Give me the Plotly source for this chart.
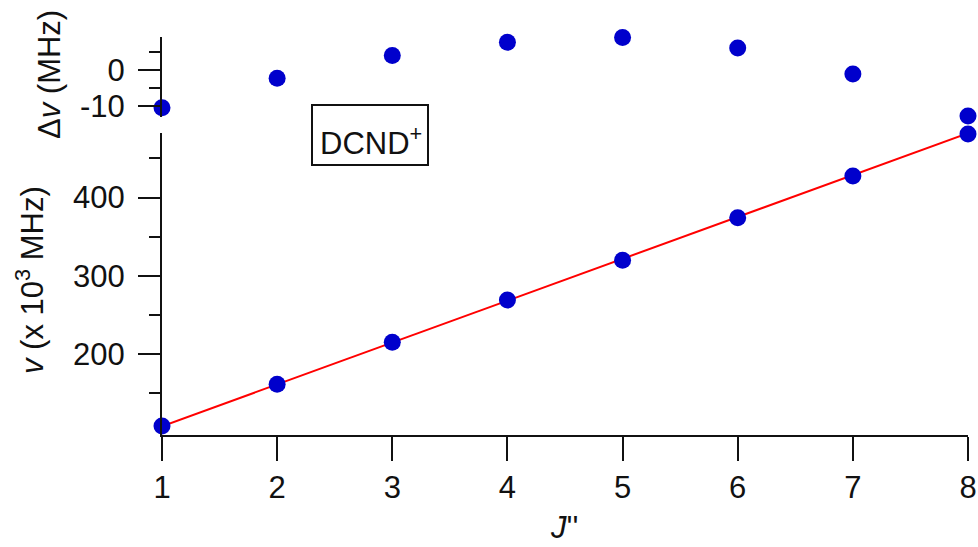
import plotly.graph_objects as go

# ---- data ----
J = [1, 2, 3, 4, 5, 6, 7, 8]
residual_MHz = [-10.5, -2.3, 4.0, 7.7, 9.0, 6.1, -1.1, -12.8]
freq_kMHz = [108.0, 161.3, 215.0, 269.0, 320.0, 374.3, 427.6, 481.3]
fit_J = [1, 8]
fit_freq = [107.6, 482.3]

x_ticks = [1, 2, 3, 4, 5, 6, 7, 8]
top_ticks = [-10, 0]
top_ticktext = ["-10", "0"]
top_minor = [-5, 5]
bot_ticks = [200, 300, 400]
bot_minor = [150, 250, 350, 450]

FONT = "Arial, Liberation Sans, sans-serif"
FS = 31
INK = "#111111"
BLUE = "#0000CC"

OFF = 0  # body margin removed by the post script below
W, H = 978, 547
L, T = 162 - OFF, 37 - OFF
R = W - (968 - OFF)
B = H - (435 - OFF)
PW, PH = W - L - R, H - T - B


def px_x(px):
    return (px - OFF - L) / PW


def px_y(py):
    return (H - B - (py - OFF)) / PH


fig = go.Figure()

fig.add_trace(go.Scatter(x=fit_J, y=fit_freq, mode="lines",
                         line=dict(color="#FF0000", width=2),
                         xaxis="x", yaxis="y", showlegend=False))
fig.add_trace(go.Scatter(x=J, y=freq_kMHz, mode="markers",
                         marker=dict(color=BLUE, size=17),
                         cliponaxis=False, xaxis="x", yaxis="y", showlegend=False))
fig.add_trace(go.Scatter(x=J, y=residual_MHz, mode="markers",
                         marker=dict(color=BLUE, size=17),
                         cliponaxis=False, xaxis="x2", yaxis="y2", showlegend=False))

axis_common = dict(showgrid=False, zeroline=False, showline=True, automargin=False,
                   linecolor=INK, linewidth=2, ticks="outside",
                   tickcolor=INK, tickwidth=2, ticklabeloverflow="allow",
                   tickfont=dict(family=FONT, size=FS, color=INK))

fig.update_layout(
    width=W, height=H,
    margin=dict(l=L, r=R, t=T, b=B, autoexpand=False),
    paper_bgcolor="white", plot_bgcolor="white",
    xaxis=dict(**axis_common, range=[1, 8], tickmode="array", tickvals=x_ticks,
               ticklen=24, anchor="y", domain=[0, 1]),
    xaxis2=dict(range=[1, 8], visible=False, anchor="y2", matches="x", domain=[0, 1],
                automargin=False),
    yaxis=dict(**axis_common, range=[96.4, 482.6], tickmode="array", tickvals=bot_ticks,
               ticklen=22, ticklabelstandoff=7, anchor="x", domain=[0, px_y(133)],
               minor=dict(tickmode="array", tickvals=bot_minor, ticks="outside",
                          ticklen=11, tickwidth=2, tickcolor=INK)),
    yaxis2=dict(**axis_common, range=[-13.06, 9.17], tickmode="array", tickvals=top_ticks,
                ticktext=top_ticktext,
                ticklen=22, ticklabelstandoff=7, anchor="x2", domain=[px_y(117), 1],
                minor=dict(tickmode="array", tickvals=top_minor, ticks="outside",
                           ticklen=11, tickwidth=2, tickcolor=INK)),
)

fig.add_shape(type="rect", xref="paper", yref="paper",
              x0=px_x(312), x1=px_x(428), y0=px_y(165), y1=px_y(105),
              line=dict(color=INK, width=2), fillcolor="white", layer="above")

annots = [
    dict(text="DCND<sup>+</sup>", x=px_x(371), y=px_y(141), xanchor="center", yanchor="middle"),
    dict(text="Δ<i>v</i> (MHz)", x=px_x(50), y=px_y(75), xanchor="center", yanchor="middle",
         textangle=-90),
    dict(text="<i>v</i> (x 10<sup>3</sup> MHz)", x=px_x(30), y=px_y(280), xanchor="center",
         yanchor="middle", textangle=-90),
    dict(text="<i>J</i>''", x=px_x(564), y=px_y(547), xanchor="center", yanchor="bottom"),
]
for a in annots:
    fig.add_annotation(xref="paper", yref="paper", showarrow=False,
                       font=dict(family=FONT, size=FS, color=INK), **a)

fig.write_html("out.html", config={"displayModeBar": False},
               post_script="document.body.style.margin='0';document.body.style.overflow='hidden';")
